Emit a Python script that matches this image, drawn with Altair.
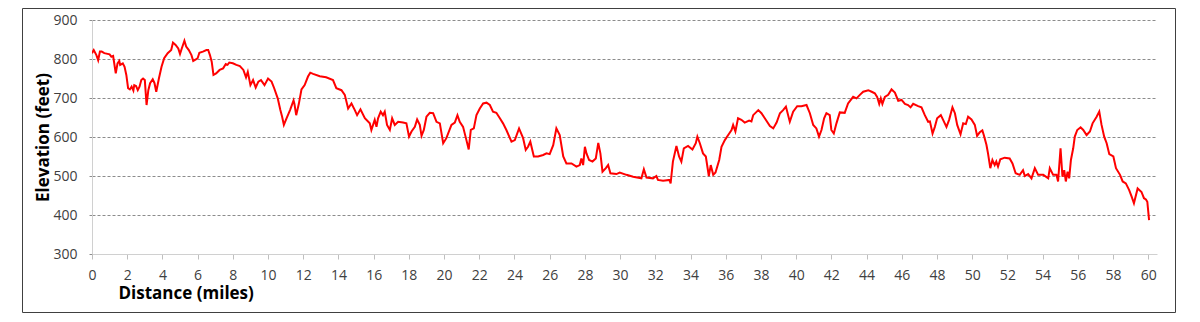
import altair as alt
import pandas as pd

miles = [0, 0.1, 0.25, 0.35, 0.45, 0.55, 0.7, 1.0, 1.1, 1.2, 1.25, 1.35, 1.45, 1.55, 1.6, 1.75, 1.85, 1.95,
         2.05, 2.15, 2.25, 2.35, 2.4, 2.5, 2.6, 2.7, 2.8, 2.9, 3.0, 3.1, 3.2, 3.3, 3.45, 3.55, 3.65, 3.8, 3.95,
         4.1, 4.3, 4.5, 4.6, 4.75, 4.9, 5.0, 5.1, 5.25, 5.35, 5.5, 5.65, 5.75, 5.9, 6.0, 6.1, 6.3, 6.5, 6.6,
         6.7, 6.8, 6.9, 7.05, 7.25, 7.45, 7.6, 7.7, 7.8, 8.0, 8.2, 8.4, 8.6, 8.75, 8.85, 9.0, 9.15, 9.3, 9.45,
         9.6, 9.8, 10.0, 10.2, 10.35, 10.55, 10.7, 10.8, 10.9, 11.05, 11.25, 11.45, 11.5, 11.6, 11.75, 11.9,
         12.08, 12.27, 12.4, 12.56, 12.94, 13.3, 13.69, 13.88, 14.17, 14.36, 14.55, 14.74, 14.93, 15.06,
         15.25, 15.5, 15.78, 15.87, 16.06, 16.16, 16.25, 16.4, 16.53, 16.63, 16.76, 16.92, 17.05, 17.2,
         17.39, 17.67, 17.86, 18.01, 18.15, 18.34, 18.47, 18.62, 18.72, 18.85, 19.0, 19.19, 19.38, 19.57,
         19.76, 19.95, 20.13, 20.42, 20.61, 20.76, 20.89, 21.08, 21.27, 21.4, 21.52, 21.69, 21.84, 22.03,
         22.22, 22.41, 22.6, 22.78, 22.97, 23.17, 23.35, 23.54, 23.83, 24.02, 24.26, 24.49, 24.64, 24.77,
         24.9, 25.1, 25.34, 25.63, 25.82, 26.0, 26.2, 26.38, 26.57, 26.77, 26.95, 27.24, 27.52, 27.71,
         27.8, 27.9, 28.0, 28.09, 28.24, 28.43, 28.62, 28.76, 28.88, 29.0, 29.19, 29.32, 29.45, 29.79,
         29.98, 30.36, 30.74, 31.21, 31.35, 31.5, 31.87, 32.06, 32.15, 32.44, 32.81, 32.87, 33.0, 33.2,
         33.35, 33.48, 33.62, 33.86, 34.11, 34.3, 34.39, 34.53, 34.71, 34.87, 35.04, 35.15, 35.29, 35.42,
         35.63, 35.76, 35.95, 36.14, 36.33, 36.42, 36.55, 36.7, 36.89, 37.08, 37.33, 37.46, 37.56, 37.85,
         38.03, 38.22, 38.51, 38.7, 38.89, 39.08, 39.26, 39.42, 39.64, 39.83, 40.06, 40.3, 40.59, 40.78,
         40.97, 41.15, 41.3, 41.44, 41.59, 41.72, 41.91, 42.0, 42.14, 42.29, 42.48, 42.76, 42.95, 43.24,
         43.43, 43.62, 43.81, 44.1, 44.29, 44.47, 44.6, 44.72, 44.81, 44.9, 45.04, 45.23, 45.42, 45.61,
         45.8, 45.99, 46.18, 46.36, 46.5, 46.65, 46.93, 47.12, 47.31, 47.5, 47.6, 47.75, 47.88, 48.01,
         48.22, 48.35, 48.54, 48.69, 48.88, 49.02, 49.15, 49.34, 49.49, 49.64, 49.77, 49.96, 50.15, 50.28,
         50.43, 50.58, 50.66, 50.81, 50.9, 51.03, 51.15, 51.28, 51.37, 51.47, 51.6, 51.85, 52.13, 52.29,
         52.47, 52.7, 52.89, 52.99, 53.18, 53.37, 53.56, 53.75, 54.04, 54.32, 54.41, 54.6, 54.79, 54.88,
         55.02, 55.13, 55.23, 55.32, 55.42, 55.51, 55.61, 55.74, 55.83, 55.97, 56.16, 56.31, 56.5, 56.69,
         56.84, 57.07, 57.22, 57.35, 57.5, 57.64, 57.79, 58.02, 58.17, 58.4, 58.55, 58.73, 58.92, 59.06,
         59.19, 59.4, 59.62, 59.76, 59.87, 59.95, 60.05]

elevation = [815, 823, 810, 797, 819, 819, 815, 812, 806, 808, 793, 763, 789, 795, 785, 789, 780, 759,
             725, 722, 729, 719, 733, 731, 720, 729, 746, 750, 746, 682, 720, 738, 748, 738, 716, 750, 780,
             802, 815, 823, 842, 836, 827, 813, 827, 847, 832, 823, 810, 795, 799, 802, 816, 819, 823, 823,
             810, 793, 759, 763, 772, 776, 787, 785, 791, 789, 785, 782, 772, 753, 767, 733, 746, 727, 742,
             746, 733, 750, 742, 725, 699, 669, 652, 631, 648, 669, 694, 685, 656, 685, 722,
             733, 755, 765, 762, 756, 753, 746, 725, 720, 708, 673, 686, 669, 656,
             671, 648, 635, 618, 644, 626, 648, 665, 656, 665, 631, 618, 648, 631,
             639, 637, 635, 601, 614, 626, 645, 631, 603, 618, 652, 662, 661, 639,
             635, 584, 597, 631, 637, 656, 639, 626, 592, 568, 618, 622, 656, 673,
             686, 688, 682, 665, 662, 648, 635, 618, 588, 592, 622, 597, 567, 575,
             588, 550, 550, 554, 558, 556, 579, 622, 605, 550, 532, 532, 524, 528,
             545, 528, 575, 558, 541, 537, 545, 585, 558, 511, 520, 528, 507, 505,
             509, 503, 498, 494, 517, 496, 494, 500, 490, 488, 490, 481, 537, 577,
             550, 537, 571, 577, 568, 584, 601, 584, 558, 550, 500, 528, 503, 509,
             541, 575, 592, 605, 618, 631, 614, 648, 644, 637, 642, 640, 656, 669,
             661, 648, 628, 622, 637, 661, 669, 678, 639, 665, 679, 679, 682, 661,
             631, 622, 601, 618, 648, 661, 656, 618, 609, 635, 663, 662, 686, 703,
             699, 708, 716, 720, 716, 712, 703, 685, 699, 685, 703, 708, 722, 714,
             693, 695, 685, 682, 676, 685, 679, 676, 656, 639, 640, 609, 626, 648,
             656, 644, 626, 644, 676, 661, 631, 607, 635, 633, 652, 645, 631, 603,
             612, 617, 605, 580, 558, 520, 541, 528, 537, 524, 543, 547, 545, 532,
             507, 503, 515, 500, 505, 494, 520, 503, 503, 494, 520, 503, 503, 486,
             571, 498, 515, 486, 511, 494, 541, 571, 601, 618, 625, 618, 605, 614,
             635, 652, 665, 631, 601, 584, 556, 550, 520, 503, 486, 481, 464, 447,
             430, 468, 459, 443, 440, 434, 387]

x_ticks = list(range(0, 61, 2))
y_ticks = [300, 400, 500, 600, 700, 800, 900]

df = pd.DataFrame({"miles": miles, "elev": elevation})

W, H = 1065, 234
FONT = "Open Sans"

line = alt.Chart(df).mark_line(color="#ff0000", strokeWidth=2, clip=True).encode(
    x=alt.X("miles:Q",
            scale=alt.Scale(domain=[0, 60.5], nice=False, zero=False),
            axis=alt.Axis(values=x_ticks, grid=False, title="Distance (miles)",
                          titleX=26, titleY=44, titleAlign="left", titleBaseline="alphabetic",
                          titleFontSize=17, titleFontWeight="bold", titleColor="#000000", titleFont=FONT,
                          labelFontSize=14, labelFont=FONT, labelColor="#404040",
                          labelBaseline="alphabetic", labelPadding=20, tickSize=5,
                          tickColor="#bfbfbf", domainColor="#d0d0d0", labelFlush=False)),
    y=alt.Y("elev:Q",
            scale=alt.Scale(domain=[300, 900], nice=False, zero=False),
            axis=alt.Axis(values=y_ticks, grid=True, title="Elevation (feet)",
                          titleX=-49, titleY=H / 2, titleAngle=-90, titleAlign="center",
                          titleBaseline="middle",
                          titleFontSize=17, titleFontWeight="bold", titleColor="#000000", titleFont=FONT,
                          labelFontSize=14, labelFont=FONT, labelColor="#404040",
                          labelPadding=10, tickSize=5, tickColor="#8c8c8c", tickDash=[3, 2],
                          gridColor="#8c8c8c", gridDash=[3, 2], gridWidth=1,
                          gridOpacity=alt.condition("datum.value == 300", alt.value(0), alt.value(1)),
                          domainColor="#d0d0d0")),
)

border = alt.Chart(alt.Data(values=[{"a": 1}])).mark_rect(
    fillOpacity=0, stroke="#404040", strokeWidth=1
).encode(
    x=alt.value(-69.5), x2=alt.value(1083.5), y=alt.value(-11.5), y2=alt.value(292.5)
)

chart = alt.layer(border, line).properties(
    width=W, height=H,
    autosize=alt.AutoSizeParams(type="none"),
    padding={"left": 84, "top": 12, "right": 30, "bottom": 60},
).configure_view(strokeWidth=0)

chart.save("out.html", embed_options={"renderer": "svg", "actions": False})
